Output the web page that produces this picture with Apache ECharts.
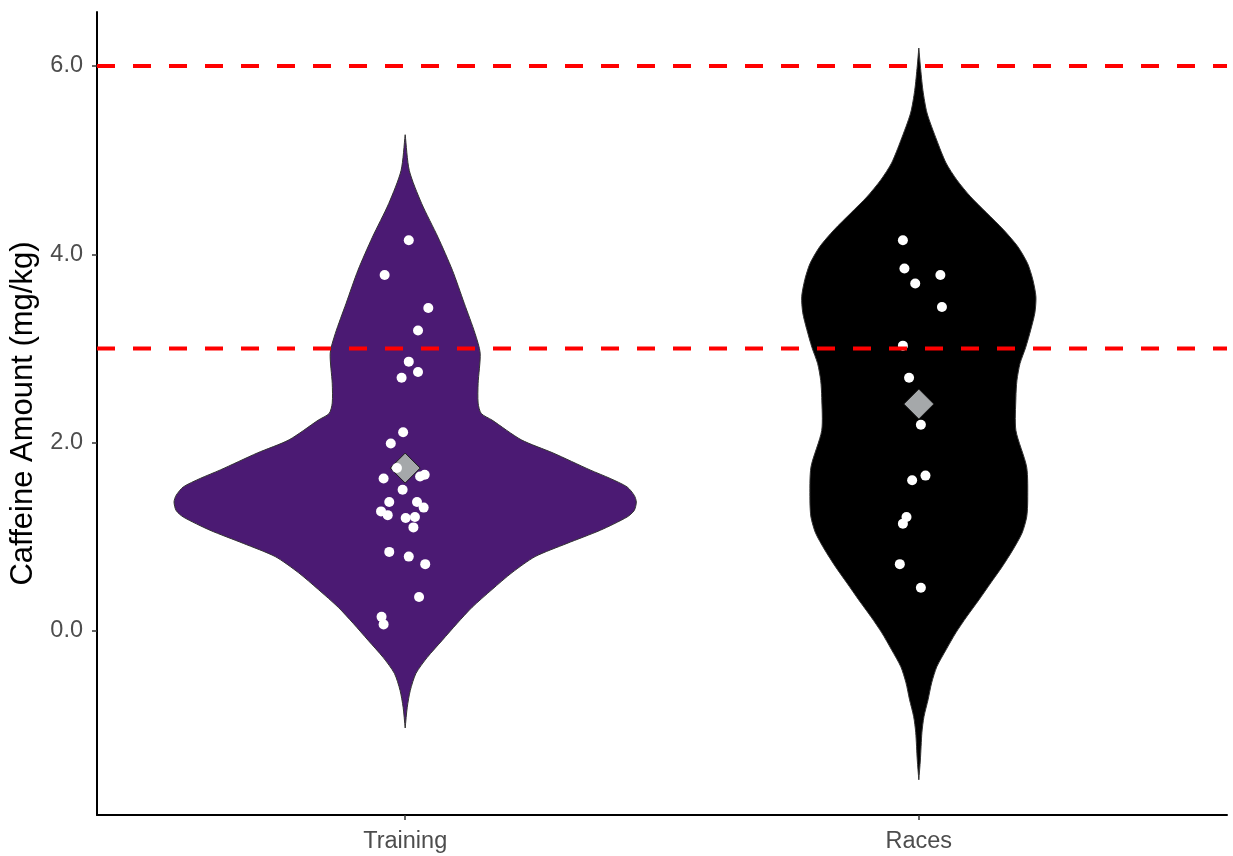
<!DOCTYPE html>
<html>
<head>
<meta charset="utf-8">
<script src="https://cdn.jsdelivr.net/npm/echarts@6/dist/echarts.min.js"></script>
<style>
html,body{margin:0;padding:0;background:#fff;}
#chart{width:1233px;height:856px;}
</style>
</head>
<body>
<div id="chart"></div>
<script>
// ---- data ----
const categories = ['Training', 'Races'];
const yTicks = [0, 2, 4, 6];
const refLines = [3, 6];
const means = [1.73, 2.41];

// violin outlines: y value and half-width (category units)
const trainingProfileY = [5.27, 4.89, 4.54, 4.18, 3.83, 3.48, 3.16, 2.95, 2.63, 2.42, 2.31, 2.24, 2.03, 1.89, 1.71, 1.62, 1.53, 1.44, 1.37, 1.28, 1.21, 1.07, 0.93, 0.79, 0.62, 0.44, 0.25, 0.08, -0.10, -0.28, -0.45, -0.63, -0.81, -1.03];
const trainingProfileW = [0, 0.008, 0.032, 0.064, 0.092, 0.115, 0.136, 0.146, 0.142, 0.142, 0.148, 0.169, 0.226, 0.288, 0.360, 0.399, 0.432, 0.446, 0.450, 0.446, 0.432, 0.380, 0.315, 0.253, 0.208, 0.169, 0.130, 0.101, 0.072, 0.043, 0.021, 0.010, 0.004, 0];
const racesProfileY = [6.19, 6.0, 5.74, 5.5, 5.21, 4.97, 4.79, 4.61, 4.44, 4.26, 4.08, 3.90, 3.73, 3.55, 3.38, 3.20, 3.01, 2.84, 2.66, 2.48, 2.13, 1.74, 1.39, 1.21, 1.04, 0.86, 0.68, 0.51, 0.33, 0.15, -0.02, -0.20, -0.38, -0.55, -0.73, -0.91, -1.08, -1.37, -1.58];
const racesProfileW = [0, 0.003, 0.008, 0.016, 0.035, 0.053, 0.074, 0.101, 0.132, 0.165, 0.193, 0.212, 0.222, 0.228, 0.226, 0.218, 0.208, 0.197, 0.191, 0.189, 0.189, 0.210, 0.212, 0.210, 0.201, 0.183, 0.162, 0.140, 0.117, 0.093, 0.072, 0.053, 0.035, 0.025, 0.018, 0.010, 0.006, 0.003, 0];

// individual observations and their horizontal jitter (category units)
const trainingValues = [4.15, 3.78, 3.43, 3.19, 2.86, 2.75, 2.69, 2.11, 1.99, 1.73, 1.62, 1.64, 1.66, 1.50, 1.37, 1.37, 1.31, 1.27, 1.23, 1.20, 1.21, 1.10, 0.84, 0.79, 0.71, 0.36, 0.15, 0.07];
const trainingJitter = [0.007, -0.040, 0.045, 0.025, 0.007, 0.025, -0.007, -0.004, -0.028, -0.016, -0.042, 0.029, 0.038, -0.005, -0.031, 0.023, 0.036, -0.047, -0.034, 0.001, 0.019, 0.016, -0.031, 0.007, 0.039, 0.027, -0.046, -0.042];
const racesValues = [4.15, 3.85, 3.78, 3.69, 3.44, 3.03, 2.69, 2.19, 1.65, 1.60, 1.21, 1.14, 0.71, 0.46];
const racesJitter = [-0.031, -0.028, 0.042, -0.007, 0.045, -0.031, -0.019, 0.004, 0.013, -0.013, -0.024, -0.031, -0.037, 0.004];

// ---- build ----
const FONT = 'Liberation Sans, Arial, sans-serif';
const profiles = [
  {y: trainingProfileY, w: trainingProfileW, fill: '#4B1A73', stroke: '#333333'},
  {y: racesProfileY, w: racesProfileW, fill: '#000000', stroke: '#333333'}
];

function violinItem(params, api) {
  const idx = params.dataIndex;
  const p = profiles[idx];
  const pts = [];
  for (let i = 0; i < p.y.length; i++) pts.push(api.coord([idx + p.w[i], p.y[i]]));
  for (let i = p.y.length - 1; i >= 0; i--) pts.push(api.coord([idx - p.w[i], p.y[i]]));
  return {
    type: 'polygon',
    shape: {points: pts, smooth: 0.25},
    style: {fill: p.fill, stroke: p.stroke, lineWidth: 1}
  };
}

const pointData = [];
trainingValues.forEach((v, i) => pointData.push([0 + trainingJitter[i], v]));
racesValues.forEach((v, i) => pointData.push([1 + racesJitter[i], v]));

const meanData = means.map((m, i) => [i, m]);

const refSeries = refLines.map(v => ({
  type: 'line',
  data: [[-0.6, v], [1.6, v]],
  symbol: 'none',
  silent: true,
  z: 20,
  lineStyle: {color: '#FF0000', width: 4, type: [18, 18]}
}));

const chart = echarts.init(document.getElementById('chart'), null, {renderer: 'canvas'});
chart.setOption({
  animation: false,
  backgroundColor: '#ffffff',
  grid: {left: 97, right: 6, top: 12, bottom: 41, containLabel: false},
  xAxis: {
    type: 'value', min: -0.6, max: 1.6,
    splitLine: {show: false},
    axisLine: {show: true, onZero: false, lineStyle: {color: '#000', width: 2}},
    axisTick: {show: true, customValues: [0, 1], length: 5, lineStyle: {color: '#333', width: 1.5}},
    axisLabel: {
      customValues: [0, 1], margin: 15,
      formatter: v => categories[Math.round(v)],
      color: '#4D4D4D', fontSize: 23.5, fontFamily: FONT
    }
  },
  yAxis: {
    type: 'value', min: -1.954, max: 6.573,
    name: 'Caffeine Amount (mg/kg)', nameLocation: 'middle', nameGap: 54,
    nameTextStyle: {color: '#000', fontSize: 31, fontFamily: FONT},
    splitLine: {show: false},
    axisLine: {show: true, onZero: false, lineStyle: {color: '#000', width: 2}},
    axisTick: {show: true, customValues: yTicks, length: 5, lineStyle: {color: '#333', width: 1.5}},
    axisLabel: {
      customValues: yTicks, margin: 14,
      formatter: v => v.toFixed(1),
      color: '#4D4D4D', fontSize: 23.5, fontFamily: FONT
    }
  },
  series: [
    {
      type: 'custom', data: [[0, means[0]], [1, means[1]]],
      encode: {x: 0, y: 1}, renderItem: violinItem, silent: true, z: 1
    },
    {
      type: 'scatter', data: meanData, symbol: 'diamond', symbolSize: 30, z: 3, silent: true,
      itemStyle: {color: '#A5A8AA', opacity: 1, borderColor: '#1a1a1a', borderWidth: 1}
    },
    {
      type: 'scatter', data: pointData, symbolSize: 10, z: 5, silent: true,
      itemStyle: {color: '#FFFFFF', opacity: 1}
    }
  ].concat(refSeries)
});
</script>
</body>
</html>
